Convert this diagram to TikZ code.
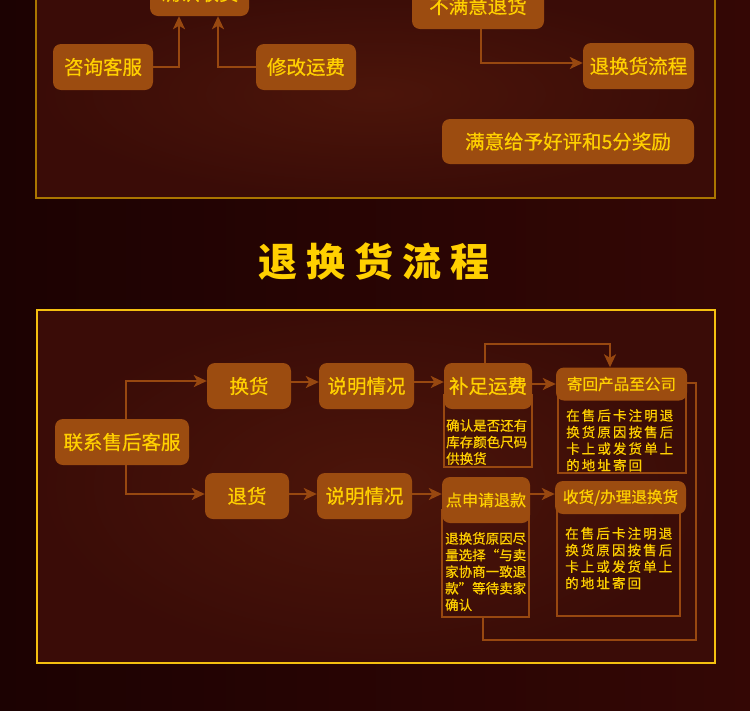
\documentclass[tikz,border=0pt]{standalone}
\usepackage{fontspec}
\newfontfamily\cjk[FakeBold=0.6]{Noto Sans CJK SC}
\newfontfamily\cjkt{Noto Sans CJK SC}
\usetikzlibrary{arrows.meta}
\definecolor{boxc}{RGB}{156,76,16}
\definecolor{linec}{RGB}{152,72,16}
\definecolor{txtc}{RGB}{255,208,0}
\definecolor{goldA}{RGB}{170,118,0}
\definecolor{goldB}{RGB}{245,192,16}
\definecolor{bgL}{RGB}{28,2,2}
\definecolor{bgR}{RGB}{52,7,5}
\definecolor{inIn}{RGB}{76,21,10}
\definecolor{inOut}{RGB}{58,12,7}
\def\lsp#1{\ifx#1\relax\else\makebox[15.6pt][l]{#1}\expandafter\lsp\fi}
\begin{document}
\begin{tikzpicture}[x=1pt,y=-1pt,
  box/.style={fill=boxc, rounded corners=8pt, text=txtc, inner sep=0pt, font=\cjk\fontsize{19.5}{20}\selectfont},
  sbox/.style={box, font=\cjk\fontsize{15.6}{16}\selectfont},
  outl/.style={draw=linec, line width=1.3pt, inner sep=0pt},
  arr/.style={draw=linec, line width=2.2pt, -{Stealth[length=13pt,width=12pt,inset=3.5pt]}},
  ln/.style={draw=linec, line width=2.2pt},
  note/.style={text=txtc, inner sep=0pt, align=left, anchor=north west, font=\cjk\fontsize{13.5}{16.6}\selectfont}]
\useasboundingbox (0,0) rectangle (750,710);
\clip (0,0) rectangle (750,710);
% background
\shade[left color=bgL, right color=bgR] (0,0) rectangle (750,710);
\shade[inner color=inIn, outer color=inOut] (36,-10) rectangle (715,198);
\shade[inner color=inIn, outer color=inOut] (37,310) rectangle (715,663);
\draw[goldA, line width=2pt] (36,-10) rectangle (715,198);
\draw[goldB, line width=1.4pt] (37,310) rectangle (715,663);

% top section
\node[box, minimum width=99pt, minimum height=46pt] (A) at (199.5,-7) {确认收货};
\node[box, minimum width=132pt, minimum height=46pt] (B) at (478,6) {不满意退货};
\node[box, minimum width=100pt, minimum height=46pt] (C) at (103,67) {咨询客服};
\node[box, minimum width=100pt, minimum height=46pt] (D) at (306,67) {修改运费};
\node[box, minimum width=111pt, minimum height=46pt] (E) at (638.5,66) {退换货流程};
\node[box, minimum width=252pt, minimum height=45pt] (F) at (568,141.5) {满意给予好评和5分奖励};
\draw[arr] (C.east) -| (179,0 |- A.south);
\draw[arr] (D.west) -| (218,0 |- A.south);
\draw[arr] (481,0 |- B.south) |- (E.west |- 0,63);

% title
\node[text=txtc, font=\cjkt\bfseries\fontsize{39}{39}\selectfont] (title) at (374,262)
  {退\hspace{9pt}换\hspace{9pt}货\hspace{9pt}流\hspace{9pt}程};

% lower section: outline boxes
\node[outl, minimum width=88pt, minimum height=72pt] (BZo) at (488,431) {};
\node[outl, minimum width=128pt, minimum height=78pt] (JHo) at (622,434) {};
\node[outl, minimum width=87pt, minimum height=107pt] (DSo) at (485.5,563.5) {};
\node[outl, minimum width=123pt, minimum height=111pt] (SHo) at (618.5,560.5) {};

\node[box, minimum width=134pt, minimum height=46pt] (L) at (122,442) {联系售后客服};
\node[box, minimum width=84pt, minimum height=46pt] (H1) at (249,386) {换货};
\node[box, minimum width=84pt, minimum height=46pt] (T1) at (247,496) {退货};
\node[box, minimum width=95pt, minimum height=46pt] (S1) at (366.5,386) {说明情况};
\node[box, minimum width=95pt, minimum height=46pt] (S2) at (364.5,496) {说明情况};
\node[box, minimum width=88pt, minimum height=46pt] (BZ) at (488,386) {补足运费};
\node[sbox, minimum width=131pt, minimum height=33pt] (JH) at (621.5,384) {寄回产品至公司};
\node[box, minimum width=88pt, minimum height=46pt, font=\cjk\fontsize{16}{16}\selectfont] (DS) at (486,500) {点申请退款};
\node[sbox, minimum width=131pt, minimum height=33pt] (SH) at (620.5,497.5) {收货/办理退换货};

\node[note] (BZt) at (446,419) {确认是否还有\\库存颜色尺码\\供换货};
\node[note] (JHt) at (566,409) {\lsp 在售后卡注明退\relax\\\lsp 换货原因按售后\relax\\\lsp 卡上或发货单上\relax\\\lsp 的地址寄回\relax};
\node[note] (DSt) at (445,532) {退换货原因尽\\量选择“与卖\\家协商一致退\\款”等待卖家\\确认};
\node[note] (SHt) at (565,527) {\lsp 在售后卡注明退\relax\\\lsp 换货原因按售后\relax\\\lsp 卡上或发货单上\relax\\\lsp 的地址寄回\relax};

% connectors
\draw[arr] (126,0 |- L.north) |- (H1.west |- 0,381);
\draw[arr] (126,0 |- L.south) |- (T1.west |- 0,494);
\draw[arr] (H1.east |- 0,382) -- (S1.west |- 0,382);
\draw[arr] (S1.east |- 0,382) -- (BZ.west |- 0,382);
\draw[arr] (T1.east |- 0,494) -- (S2.west |- 0,494);
\draw[arr] (S2.east |- 0,494) -- (DS.west |- 0,494);
\draw[arr] (BZ.east |- 0,384) -- (JH.west |- 0,384);
\draw[arr] (485,0 |- BZ.north) -- (485,344) -| (610,0 |- JH.north);
\draw[arr] (DS.east |- 0,494) -- (SH.west |- 0,494);
\draw[ln] (JH.east |- 0,383) -- (696,383) -- (696,640) -- (483,640) -- (483,0 |- DSo.south);
\end{tikzpicture}
\end{document}
